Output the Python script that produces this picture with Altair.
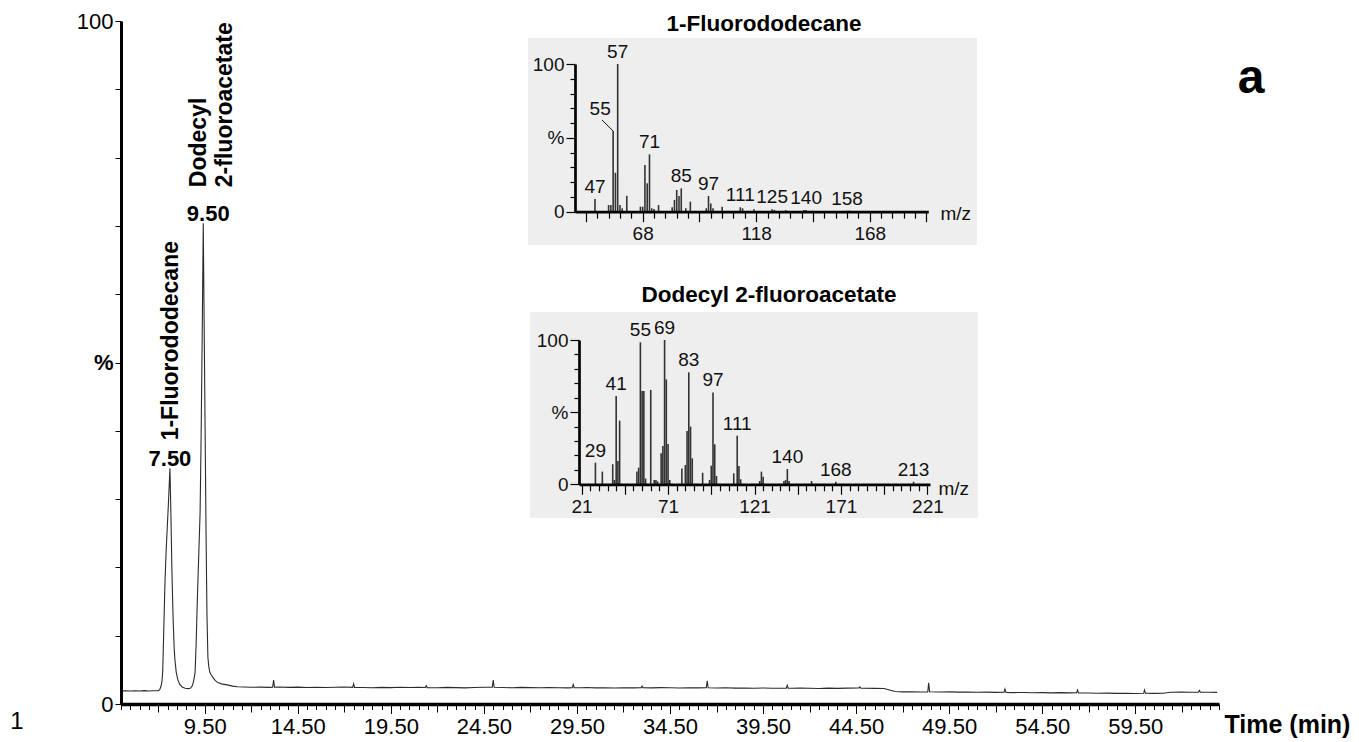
import altair as alt
import pandas as pd

# ---------------- data ----------------
chrom_time = [5.0, 5.25, 5.5, 5.75, 6.0, 6.25, 6.5, 6.75, 7.0, 7.08, 7.15, 7.2, 7.24, 7.3, 7.36, 7.42,
              7.48, 7.55, 7.63, 7.68, 7.74, 7.8, 7.86, 7.9, 7.97, 8.06, 8.15, 8.28, 8.45, 8.6, 8.72,
              8.82, 8.88, 8.93, 8.98, 9.04, 9.1, 9.18, 9.25, 9.3, 9.36, 9.42, 9.47, 9.52, 9.57, 9.62,
              9.67, 9.72, 9.78, 9.86, 9.94, 10.05, 10.16, 10.4, 10.7, 11.0, 11.25, 11.6, 12.0, 12.5,
              13.0, 13.15, 13.2, 13.25, 13.5, 14.0, 14.5, 15.0, 15.5, 16.0, 16.5, 17.0, 17.45, 17.5,
              17.55, 18.0, 18.5, 19.0, 19.5, 20.0, 20.5, 21.0, 21.35, 21.4, 21.45, 22.0, 22.5, 23.0,
              23.5, 24.0, 24.5, 24.95, 25.0, 25.05, 25.5, 26.0, 26.5, 27.0, 27.5, 28.0, 28.5, 29.0,
              29.25, 29.3, 29.35, 29.75, 30.0, 30.5, 31.0, 31.5, 32.0, 32.5, 32.95, 33.0, 33.05, 33.5,
              34.0, 34.5, 35.0, 35.5, 36.0, 36.45, 36.5, 36.55, 37.0, 37.5, 38.0, 38.5, 39.0, 39.5,
              40.0, 40.75, 40.8, 40.85, 41.0, 41.5, 42.0, 42.5, 43.0, 43.5, 44.0, 44.65, 44.7, 44.75,
              45.0, 45.5, 46.0, 46.3, 46.6, 47.0, 47.5, 48.0, 48.35, 48.4, 48.45, 49.0, 49.5, 50.0,
              50.5, 51.0, 51.5, 52.0, 52.45, 52.5, 52.55, 53.0, 53.5, 54.0, 54.5, 55.0, 55.5, 56.0,
              56.35, 56.4, 56.45, 57.0, 57.5, 58.0, 58.5, 59.0, 59.5, 59.95, 60.0, 60.05, 60.5, 61.0,
              61.4, 62.0, 62.5, 62.9, 62.95, 63.0, 63.5, 63.9]
chrom_pct = [1.92, 1.95, 1.9, 1.94, 1.9, 1.96, 1.91, 1.95, 1.95, 2.1, 2.6, 3.3, 4.7, 11.0, 17.5, 22.1,
             25.5, 29.5, 34.5, 28.0, 19.0, 12.5, 8.0, 6.4, 4.6, 3.5, 2.9, 2.5, 2.3, 2.25, 2.3,
             2.6, 3.1, 3.8, 4.6, 9.0, 15.0, 22.0, 28.0, 38.0, 53.0, 70.4, 55.0, 40.0, 25.0, 13.0,
             6.8, 5.4, 4.6, 4.2, 3.9, 3.5, 3.2, 2.95, 2.8, 2.62, 2.52, 2.48, 2.45, 2.47,
             2.43, 2.45, 3.5, 2.45, 2.48, 2.44, 2.47, 2.42, 2.46, 2.41, 2.45, 2.48, 2.44, 2.95,
             2.43, 2.41, 2.39, 2.44, 2.4, 2.45, 2.41, 2.43, 2.42, 2.68, 2.4, 2.38, 2.43, 2.4,
             2.36, 2.41, 2.45, 2.46, 3.5, 2.46, 2.42, 2.38, 2.44, 2.4, 2.37, 2.42, 2.39, 2.36,
             2.4, 2.85, 2.4, 2.37, 2.41, 2.36, 2.39, 2.34, 2.38, 2.36, 2.4, 2.62, 2.38, 2.36,
             2.4, 2.37, 2.34, 2.39, 2.36, 2.38, 3.4, 2.38, 2.34, 2.37, 2.32, 2.35, 2.3, 2.34,
             2.31, 2.33, 2.75, 2.32, 2.3, 2.34, 2.31, 2.28, 2.32, 2.29, 2.33, 2.35, 2.52, 2.33,
             2.31, 2.29, 2.26, 2.05, 1.82, 1.78, 1.8, 1.76, 1.78, 3.1, 1.8, 1.76, 1.78, 1.74,
             1.76, 1.72, 1.74, 1.7, 1.72, 2.2, 1.7, 1.67, 1.69, 1.65, 1.67, 1.63, 1.66, 1.63,
             1.65, 2.05, 1.63, 1.6, 1.57, 1.59, 1.55, 1.57, 1.54, 1.57, 2.05, 1.57, 1.55, 1.58,
             1.72, 1.75, 1.72, 1.74, 1.98, 1.73, 1.72, 1.7]

peak_time = [7.63, 9.42]
peak_pct = [34.5, 70.4]
peak_rt_text = ["7.50", "9.50"]
peak_names = ["1-Fluorododecane", "Dodecyl\n2-fluoroacetate"]

ms1_mz = [47, 53, 54, 55, 56, 57, 58, 59, 61, 67, 68, 69, 70, 71, 72, 73, 75, 81, 82, 83, 84, 85,
          87, 89, 96, 97, 98, 99, 103, 111, 112, 117, 125, 126, 131, 139, 140, 143, 158, 159]
ms1_pct = [8.6, 4.5, 4.5, 54.6, 26.4, 100, 4.5, 2.3, 10.8, 3.4, 3.4, 31.6, 19.2, 38.8, 2.3, 1.8, 4.5,
           3.0, 8.0, 14.7, 10.6, 15.8, 2.3, 6.8, 2.3, 10.6, 5.6, 2.3, 3.4, 3.0, 2.3, 1.6, 1.6, 1.2,
           1.1, 1.1, 1.1, 0.7, 0.7, 0.7]
ms1_labels = [47, 57, 71, 85, 97, 111, 125, 140, 158]
ms1_leader_labels = [55]

ms2_mz = [29, 33, 39, 40, 41, 42, 43, 53, 54, 55, 56, 57, 58, 61, 63, 64, 65, 67, 68, 69, 70, 71,
          72, 79, 81, 82, 83, 84, 85, 91, 95, 96, 97, 98, 99, 109, 111, 112, 113, 124, 125, 126,
          138, 139, 140, 141, 154, 168, 213]
ms2_pct = [15.0, 8.8, 13.9, 3.0, 61.2, 16.2, 44.1, 8.8, 11.5, 98.4, 64.7, 64.7, 4.0, 65.4, 3.0, 3.0,
           2.0, 21.5, 26.6, 100, 72.7, 28.0, 3.0, 11.0, 13.4, 37.0, 77.6, 40.0, 18.0, 8.0, 3.0, 12.9,
           63.7, 27.7, 5.8, 7.6, 33.7, 12.7, 3.5, 2.3, 8.8, 5.3, 2.3, 3.0, 10.6, 2.3, 2.3, 1.8, 1.8]
ms2_labels = [29, 41, 55, 69, 83, 97, 111, 140, 168, 213]

# ---------------- layout / style ----------------
FONT = "Liberation Sans"
W, H = 1098, 683
INK = "#111111"
BAR = "#333333"
PANEL = "#eeeeee"

time_ticks = [5 + 0.5 * k for k in range(119)]
pct_ticks = list(range(0, 101, 10))

chrom = pd.DataFrame({"time": chrom_time, "pct": chrom_pct})
peaks = pd.DataFrame({"time": peak_time, "pct": peak_pct, "rt": peak_rt_text, "name": peak_names})
one_row = pd.DataFrame({"k": [0]})

x_main = alt.X(
    "time:Q",
    scale=alt.Scale(domain=[5, 64], nice=False, zero=False),
    axis=alt.Axis(
        orient="bottom", values=time_ticks, grid=False, zindex=2,
        labelExpr="(datum.value - 4.5) % 5 == 0 ? format(datum.value, '.2f') : ''",
        tickSize={"condition": [{"test": "(datum.value - 4.5) % 5 == 0", "value": 9.5},
                                {"test": "(datum.value - 2) % 5 == 0", "value": 8}],
                  "value": 5.5},
        domainColor="black", domainWidth=3.5, tickColor="black", tickWidth=1,
        labelFont=FONT, labelFontSize=22, labelColor="black", labelPadding=3,
        labelOverlap=False, labelFlush=False,
        title="Time (min)", titleX=1103, titleY=28, titleAlign="left", titleBaseline="alphabetic",
        titleFont=FONT, titleFontSize=25, titleFontWeight="bold", titleColor="black",
    ),
)
y_main = alt.Y(
    "pct:Q",
    scale=alt.Scale(domain=[0, 100], nice=False),
    axis=alt.Axis(
        orient="left", values=pct_ticks, grid=False, zindex=2,
        labelExpr="datum.value == 50 ? '%' : (datum.value == 0 || datum.value == 100) ? datum.label : ''",
        labelFontWeight={"condition": {"test": "datum.value == 50", "value": "bold"}, "value": "normal"},
        tickSize=6, domainColor="black", domainWidth=3, tickColor="black", tickWidth=1,
        labelFont=FONT, labelFontSize=22, labelColor="black", labelPadding=2, labelOverlap=False,
        title="",
    ),
)

line = alt.Chart(chrom).mark_line(color="#2b2b2b", strokeWidth=1.1).encode(x=x_main, y=y_main)

rt1 = alt.Chart(peaks).transform_filter("datum.time < 8.5").mark_text(
    font=FONT, fontSize=22, fontWeight="bold", baseline="alphabetic", align="center", dy=-2, color="black"
).encode(x=x_main, y=y_main, text="rt:N")
rt2 = alt.Chart(peaks).transform_filter("datum.time > 8.5").mark_text(
    font=FONT, fontSize=22, fontWeight="bold", baseline="alphabetic", align="center", dx=5, dy=-2, color="black"
).encode(x=x_main, y=y_main, text="rt:N")
name1 = alt.Chart(peaks).transform_filter("datum.time < 8.5").mark_text(
    font=FONT, fontSize=23, fontWeight="bold", angle=270, align="left", baseline="middle",
    dx=28, dy=1, color="black"
).encode(x=x_main, y=y_main, text="name:N")
name2 = alt.Chart(peaks).transform_filter("datum.time > 8.5").mark_text(
    font=FONT, fontSize=23, fontWeight="bold", angle=270, align="left", baseline="middle",
    dx=36, dy=-4, lineBreak="\n", lineHeight=26, color="black"
).encode(x=x_main, y=y_main, text="name:N")

panel1 = alt.Chart(one_row).mark_rect(color=PANEL).encode(
    x=alt.value(407), x2=alt.value(856), y=alt.value(17), y2=alt.value(224))
panel2 = alt.Chart(one_row).mark_rect(color=PANEL).encode(
    x=alt.value(409), x2=alt.value(857), y=alt.value(291), y2=alt.value(497))
title1 = alt.Chart(one_row).mark_text(
    font=FONT, fontSize=22.5, fontWeight="bold", align="center", baseline="alphabetic", color="black"
).encode(x=alt.value(643), y=alt.value(10), text=alt.value("1-Fluorododecane"))
title2 = alt.Chart(one_row).mark_text(
    font=FONT, fontSize=22.5, fontWeight="bold", align="center", baseline="alphabetic", color="black"
).encode(x=alt.value(648), y=alt.value(281), text=alt.value("Dodecyl 2-fluoroacetate"))
num_lbl = alt.Chart(one_row).mark_text(
    font=FONT, fontSize=24, align="center", baseline="alphabetic", color="black"
).encode(x=alt.value(-104), y=alt.value(708), text=alt.value("1"))
a_lbl = alt.Chart(one_row).mark_text(
    font=FONT, fontSize=48, fontWeight="bold", align="center", baseline="alphabetic", color="black"
).encode(x=alt.value(1130), y=alt.value(72), text=alt.value("a"))

main = alt.layer(line, rt1, rt2, name1, name2, panel1, panel2, title1, title2, num_lbl, a_lbl)


def inset(mz, pct, labels, leader_labels, x_dom, x_rng, y_rng, x_vals, major0, label0, title_x, title_y):
    df = pd.DataFrame({"mz": mz, "pct": pct})
    xax = alt.Axis(
        orient="bottom", offset=y_rng[0] - H, values=x_vals, grid=False, zindex=2, format="d",
        labelExpr=f"(datum.value - {label0}) % 50 == 0 ? datum.label : ''",
        tickSize={"condition": {"test": f"(datum.value - {major0}) % 25 == 0", "value": 10}, "value": 6.5},
        domainColor="black", domainWidth=2.7, tickColor="black", tickWidth=1.2,
        labelFont=FONT, labelFontSize=19, labelColor=INK, labelPadding=3,
        labelOverlap=False, labelFlush=False,
        title="m/z", titleX=title_x, titleY=title_y, titleAlign="left", titleBaseline="middle",
        titleFont=FONT, titleFontSize=19, titleFontWeight="normal", titleColor=INK,
    )
    yax = alt.Axis(
        orient="left", offset=-x_rng[0], values=pct_ticks, grid=False, zindex=2,
        labelExpr="datum.value == 50 ? '%' : (datum.value == 0 || datum.value == 100) ? datum.label : ''",
        tickSize={"condition": {"test": "datum.value % 50 == 0", "value": 9}, "value": 5},
        domainColor="black", domainWidth=2.7, tickColor="black", tickWidth=1.2,
        labelFont=FONT, labelFontSize=19, labelColor=INK, labelPadding=2, labelOverlap=False,
        title="",
    )
    xe = alt.X("mz:Q", scale=alt.Scale(domain=x_dom, range=x_rng, nice=False, zero=False), axis=xax)
    ye = alt.Y("pct:Q", scale=alt.Scale(domain=[0, 100], range=y_rng, nice=False), axis=yax)
    bars = alt.Chart(df).mark_rule(color=BAR, strokeWidth=1.6).encode(x=xe, y=ye, y2=alt.datum(0))
    lab_df = df[df["mz"].isin(labels)]
    txt = alt.Chart(lab_df).mark_text(
        font=FONT, fontSize=19, baseline="alphabetic", align="center", dy=-6, color=INK
    ).encode(x=xe, y=ye, text=alt.Text("mz:Q", format="d"))
    layers = [bars, txt]
    if leader_labels:
        ld = df[df["mz"].isin(leader_labels)]
        ltxt = alt.Chart(ld).mark_text(
            font=FONT, fontSize=19, baseline="alphabetic", align="center", dx=-13, dy=-16, color=INK
        ).encode(x=xe, y=ye, text=alt.Text("mz:Q", format="d"))
        lrule = alt.Chart(ld).transform_calculate(
            mz_end="datum.mz - 4.9", pct_end="datum.pct + 7.5"
        ).mark_rule(color=INK, strokeWidth=1).encode(x=xe, y=ye, x2="mz_end:Q", y2="pct_end:Q")
        layers += [ltxt, lrule]
    return alt.layer(*layers)


inset1 = inset(ms1_mz, ms1_pct, ms1_labels, ms1_leader_labels,
               x_dom=[38.2, 193.8], x_rng=[454, 807.3], y_rng=[190.7, 43],
               x_vals=list(range(43, 194, 5)), major0=43, label0=68, title_x=819, title_y=2)
inset2 = inset(ms2_mz, ms2_pct, ms2_labels, [],
               x_dom=[19.5, 222.5], x_rng=[458, 809], y_rng=[463.3, 319],
               x_vals=list(range(21, 222, 5)), major0=21, label0=21, title_x=817, title_y=4)

chart = alt.layer(main, inset1, inset2).resolve_scale(
    x="independent", y="independent"
).resolve_axis(
    x="independent", y="independent"
).properties(
    width=W, height=H,
    autosize=alt.AutoSizeParams(type="none"),
    padding={"left": 113, "top": 13, "right": 132, "bottom": 38},
).configure(font=FONT).configure_view(strokeWidth=0)

chart.save("out.html", embed_options={"renderer": "svg", "actions": False})
